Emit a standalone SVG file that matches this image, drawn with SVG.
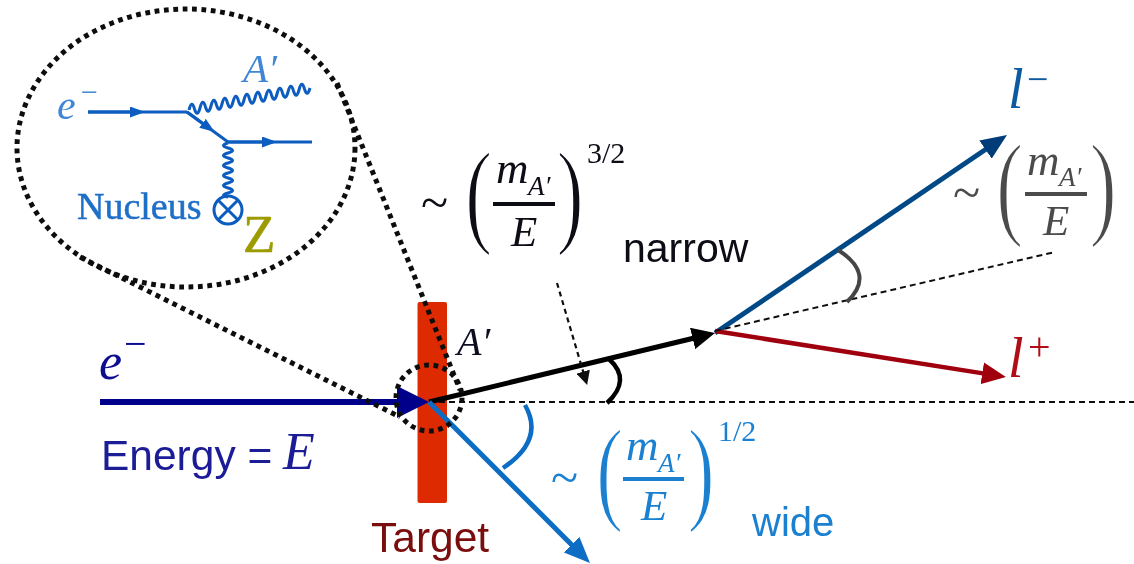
<svg xmlns="http://www.w3.org/2000/svg" width="1134" height="564" viewBox="0 0 1134 564">
<style>
.s{font-family:"Liberation Serif","Times New Roman",serif}
.i{font-style:italic}
.a{font-family:"Liberation Sans",Arial,sans-serif}
.dot{fill:none;stroke:#111;stroke-width:5;stroke-dasharray:4.8 4.6}
.ln{fill:none}
.inset{fill:#1f6fc8}
.par{font-family:"Liberation Serif","Times New Roman",serif;font-size:117px;stroke:#fff;stroke-width:2.200px}
</style>
<defs>
<filter id="soft" x="0" y="0" width="100%" height="100%" filterUnits="objectBoundingBox"><feGaussianBlur stdDeviation="0.45"/></filter>
<marker id="hNavy" markerUnits="userSpaceOnUse" viewBox="0 -16 32 32" markerWidth="32" markerHeight="32" refX="3" refY="0" orient="auto"><path d="M0-16L32 0L0 16Z" fill="#00008b"/></marker>
<marker id="hBlack" markerUnits="userSpaceOnUse" viewBox="0 -11 23 22" markerWidth="23" markerHeight="22" refX="4" refY="0" orient="auto"><path d="M0-11L23 0L0 11Z" fill="#000"/></marker>
<marker id="hL" markerUnits="userSpaceOnUse" viewBox="0 -11 26 22" markerWidth="26" markerHeight="22" refX="4" refY="0" orient="auto"><path d="M0-11L26 0L0 11Z" fill="#003c78"/></marker>
<marker id="hR" markerUnits="userSpaceOnUse" viewBox="0 -11 24 22" markerWidth="24" markerHeight="22" refX="4" refY="0" orient="auto"><path d="M0-11L24 0L0 11Z" fill="#a00010"/></marker>
<marker id="hB" markerUnits="userSpaceOnUse" viewBox="0 -11 26 22" markerWidth="26" markerHeight="22" refX="4" refY="0" orient="auto"><path d="M0-11L26 0L0 11Z" fill="#0a6cc4"/></marker>
<marker id="hD" markerUnits="userSpaceOnUse" viewBox="0 -7 14 14" markerWidth="14" markerHeight="14" refX="3" refY="0" orient="auto"><path d="M0-7L14 0L0 7Z" fill="#111"/></marker>
<marker id="hI" markerUnits="userSpaceOnUse" viewBox="0 -5.500 15 11" markerWidth="15" markerHeight="11" refX="8" refY="0" orient="auto"><path d="M0-5.500L15 0L0 5.500Z" fill="#0a5cc0"/></marker>
</defs>
<g filter="url(#soft)">
<rect x="0" y="0" width="1134" height="564" fill="#fff"/>

<g id="target"><rect x="417.5" y="302" width="29.5" height="201" rx="2" fill="#dd2a00"/><text class="a" x="371" y="552" font-size="42.500" fill="#7a0a0a">Target</text></g>

<g id="inset">
<ellipse class="dot" cx="186" cy="148" rx="169" ry="139"/>
<text class="s i" x="57" y="119" font-size="42" fill="#3f86d4">e</text>
<text class="s" x="81" y="102" font-size="30" fill="#3f86d4">−</text>
<text class="s i" x="243" y="82" font-size="41" fill="#3f86d4">A′</text>
<g fill="none" stroke="#0a5cc0" stroke-width="3">
<path d="M88 112H187" />
<path d="M88 112H138" marker-end="url(#hI)"/>
<path d="M187 112L228 142H312"/>
<path d="M187 112L209 128" marker-end="url(#hI)"/>
<path d="M228 142H270" marker-end="url(#hI)"/>
<path d="M189 110q2.750 -11 5.500 -1q2.750 9 5.500 -1q2.750 -11 5.500 -1q2.750 9 5.500 -1q2.750 -11 5.500 -1q2.750 9 5.500 -1q2.750 -11 5.500 -1q2.750 9 5.500 -1q2.750 -11 5.500 -1q2.750 9 5.500 -1q2.750 -11 5.500 -1q2.750 9 5.500 -1q2.750 -11 5.500 -1q2.750 9 5.500 -1q2.750 -11 5.500 -1q2.750 9 5.500 -1q2.750 -11 5.500 -1q2.750 9 5.500 -1q2.750 -11 5.500 -1q2.750 9 5.500 -1q2.750 -11 5.500 -1q2.750 9 5.500 -1"/>
<path d="M228 143q-9 2.500 0 5q9 2.500 0 5q-9 2.500 0 5q9 2.500 0 5q-9 2.500 0 5q9 2.500 0 5q-9 2.500 0 5q9 2.500 0 5q-9 2.500 0 5q9 2.500 0 5q-9 2.500 0 4"/>
<circle cx="228" cy="210" r="14"/>
<path d="M218 200L238 220M238 200L218 220"/>
</g>
<text class="s inset" x="77" y="219" font-size="38" stroke="#1f6fc8" stroke-width=".5">Nucleus</text>
<text class="s" x="243" y="252" font-size="53" fill="#9c9c00" stroke="#9c9c00" stroke-width=".6">Z</text>
</g>

<g id="beam-label"><text class="s i" x="99" y="379" font-size="52" fill="#0a0a90">e</text><text class="s" x="124" y="357" font-size="40" fill="#0a0a90">−</text>
<text x="101" y="470" font-size="42.500" fill="#1a1a96" class="a">Energy = </text><text class="s i" x="283" y="469" font-size="52" fill="#1a1a96">E</text></g>

<g id="connectors" class="ln">
<path d="M429 402H1134" stroke="#111" stroke-width="2" stroke-dasharray="6 4"/>
<path d="M100 402H400" stroke="#00008b" stroke-width="6" marker-end="url(#hNavy)"/>
<path d="M429 402L696.500 337.500" stroke="#000" stroke-width="5" marker-end="url(#hBlack)"/>
<path d="M429 402L574.400 547.400" stroke="#0a6cc4" stroke-width="5" marker-end="url(#hB)"/>
<path d="M715 333L988.800 147.300" stroke="#004a86" stroke-width="5" marker-end="url(#hL)"/>
<path d="M715 331L986.200 373.900" stroke="#a00010" stroke-width="4.500" marker-end="url(#hR)"/>
<path d="M715 331L1055 252" stroke="#111" stroke-width="2" stroke-dasharray="6 4"/>
<path d="M557 283L584 374.500" stroke="#111" stroke-width="2.200" stroke-dasharray="5 4" marker-end="url(#hD)"/>
<path d="M609 359Q632 380 607 403" stroke="#000" stroke-width="4.500"/>
<path d="M525 405Q545 440 503 468" stroke="#0a6cc4" stroke-width="4.500"/>
<path d="M838 250Q876 274 847 302" stroke="#444" stroke-width="4"/>
<path class="dot" d="M337 83L460 390"/>
<path class="dot" d="M80 257L400 417"/>
<circle class="dot" cx="429" cy="398" r="33"/>
</g>

<g id="black-label"><text class="s i" x="457" y="355" font-size="40" fill="#0b0b20">A′</text></g>

<g id="formula-narrow" fill="#0a0a14">
<text class="s" x="421" y="219" font-size="50">~</text>
<text class="par" transform="translate(465 232) scale(.7 1)">(</text>
<text class="par" transform="translate(556.600 232) scale(.7 1)">)</text>
<text class="s i" x="496" y="183" font-size="45">m</text>
<text class="s i" x="528" y="195" font-size="27">A′</text>
<rect x="493" y="202" width="62" height="4"/>
<text class="s i" x="511" y="246" font-size="43">E</text>
<text class="s" x="587" y="163" font-size="30">3/2</text>
<text class="a" x="623" y="262" font-size="41">narrow</text>
</g>

<g id="formula-wide" fill="#1a80d0">
<text class="s" x="551" y="494" font-size="50">~</text>
<text class="par" transform="translate(596 509) scale(.7 1)">(</text>
<text class="par" transform="translate(687.600 509) scale(.7 1)">)</text>
<text class="s i" x="626" y="460" font-size="45">m</text>
<text class="s i" x="658" y="472" font-size="27">A′</text>
<rect x="623" y="477" width="61" height="4"/>
<text class="s i" x="641" y="520" font-size="43">E</text>
<text class="s" x="718" y="441" font-size="30">1/2</text>
<text class="a" x="752" y="536" font-size="40">wide</text>
</g>

<g id="formula-lepton" fill="#4c4c4c">
<text class="s" x="953" y="209" font-size="50">~</text>
<text class="par" transform="translate(996 224) scale(.7 1)">(</text>
<text class="par" transform="translate(1089.600 224) scale(.7 1)">)</text>
<text class="s i" x="1027" y="175" font-size="45">m</text>
<text class="s i" x="1059" y="186" font-size="27">A′</text>
<rect x="1025" y="192" width="62" height="4"/>
<text class="s i" x="1043" y="235" font-size="43">E</text>
</g>

<g id="lepton-minus"><text class="s i" x="1008" y="108" font-size="56" fill="#0a5aa0">l</text><text class="s" x="1027" y="92" font-size="38" fill="#0a5aa0">−</text></g>
<g id="lepton-plus"><text class="s i" x="1008" y="377" font-size="56" fill="#b01018">l</text><text class="s" x="1028" y="360" font-size="40" fill="#b01018">+</text></g>
</g>
</svg>
